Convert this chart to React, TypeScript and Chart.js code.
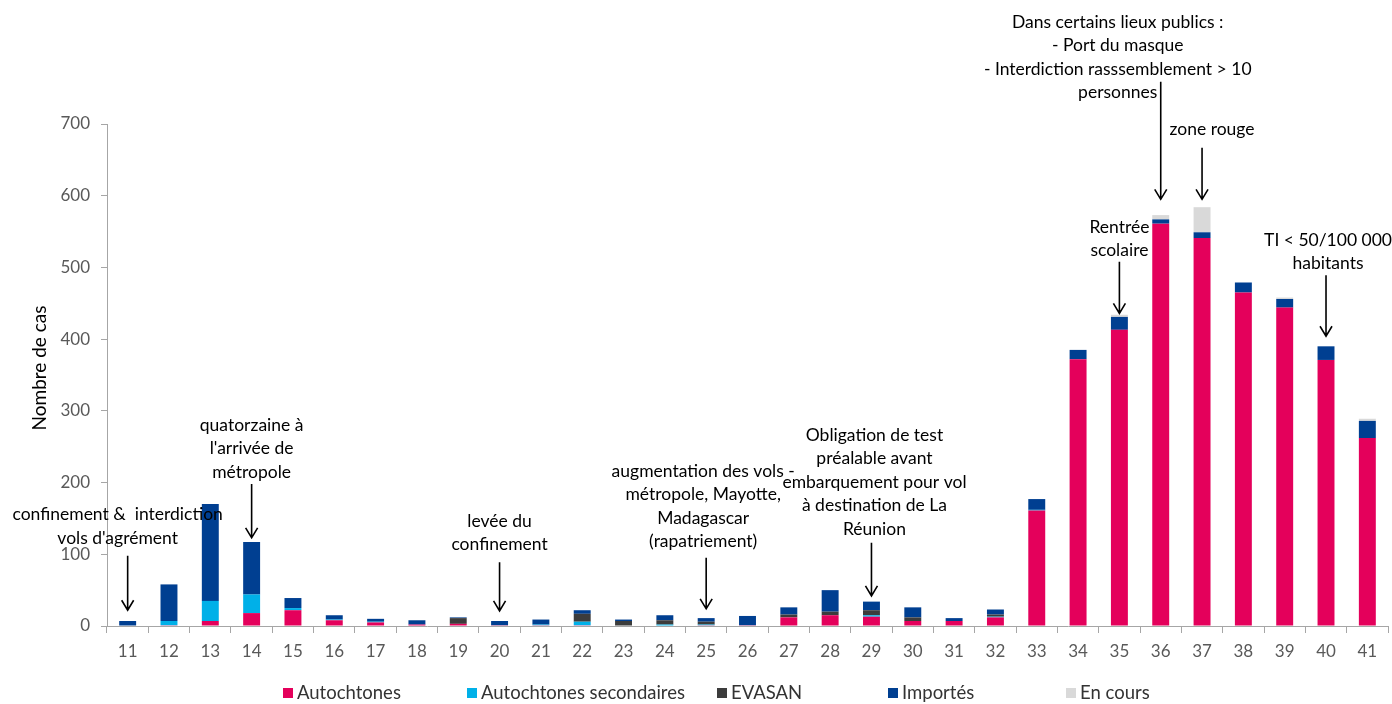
import { useEffect, useRef } from 'react';
import { Chart, registerables } from 'chart.js';

Chart.register(...registerables);

// ---------- data ----------
const weeks = ['11', '12', '13', '14', '15', '16', '17', '18', '19', '20', '21', '22', '23', '24', '25', '26', '27', '28', '29', '30', '31', '32', '33', '34', '35', '36', '37', '38', '39', '40', '41'];
const autochtones = [0, 1, 7, 18, 22, 8, 5, 2, 3, 1, 1, 1, 0, 0, 1, 1, 12, 15, 13, 7, 7, 12, 161, 372, 413, 561, 541, 465, 444, 371, 262];
const autochtonesSecondaires = [0, 6, 28, 26, 3, 1, 1, 0, 0, 0, 1, 5, 0, 2, 1, 0, 0, 0, 2, 0, 0, 1, 1, 0, 0, 0, 0, 0, 0, 0, 0];
const evasan = [0, 0, 0, 0, 0, 0, 0, 0, 8, 0, 0, 11, 7, 6, 4, 0, 4, 5, 7, 5, 0, 3, 0, 0, 0, 0, 0, 0, 0, 0, 0];
const importes = [7, 51, 135, 73, 14, 6, 4, 6, 1, 6, 7, 5, 2, 7, 5, 13, 10, 30, 12, 14, 4, 7, 15, 13, 18, 6, 8, 14, 12, 19, 24];
const enCours = [0, 0, 0, 0, 0, 0, 0, 0, 0, 0, 0, 0, 0, 0, 0, 0, 0, 0, 0, 0, 0, 0, 0, 0, 3, 6, 35, 0, 2, 0, 3];
const seriesNames = ['Autochtones', 'Autochtones secondaires', 'EVASAN', 'Importés', 'En cours'];
const yTitle = 'Nombre de cas';

// annotation texts: week, lines, text first-line value, arrow from/to values
const annotations = [
  { week: '11', lines: ["confinement &  interdiction", "vols d'agrément"], textAt: 155, from: 98, to: 22, dx: -10 },
  { week: '14', lines: ['quatorzaine à', "l'arrivée de", 'métropole'], textAt: 280, from: 198, to: 123, dx: 0 },
  { week: '20', lines: ['levée du', 'confinement'], textAt: 146, from: 89, to: 21, dx: 0 },
  { week: '25', lines: ['augmentation des vols -', 'métropole, Mayotte,', 'Madagascar', '(rapatriement)'], textAt: 216, from: 95, to: 24, dx: -3 },
  { week: '29', lines: ['Obligation de test', 'préalable avant', 'embarquement pour vol', 'à destination de La', 'Réunion'], textAt: 266, from: 116, to: 42, dx: 3 },
  { week: '35', lines: ['Rentrée', 'scolaire'], textAt: 556, from: 508, to: 436, dx: 0 },
  { week: '36', lines: ['Dans certains lieux publics :', '- Port du masque', '- Interdiction rasssemblement > 10', 'personnes'], textAt: 842, from: 759, to: 595, dx: -43 },
  { week: '37', lines: ['zone rouge'], textAt: 693, from: 667, to: 595, dx: 10 },
  { week: '40', lines: ['TI < 50/100 000', 'habitants'], textAt: 538, from: 489, to: 404, dx: 2 },
];

// ---------- styles ----------
const FONT = 'Lato, "Open Sans", sans-serif';
const COLORS = ['#E4005B', '#00B0E8', '#3C3C3C', '#003F91', '#D9D9D9'];
const AXIS_COLOR = '#A6A6A6';
const TICK_COLOR = '#595959';
const LEGEND_X = [283, 467, 717, 888, 1066];
const LEGEND_Y = 693;

const annotationPlugin = {
  id: 'annots',
  afterDatasetsDraw(chart: any) {
    const { ctx } = chart;
    const xs = chart.scales.x;
    const ys = chart.scales.y;
    ctx.save();
    ctx.font = `17.5px ${FONT}`;
    ctx.fillStyle = '#000';
    ctx.textAlign = 'center';
    ctx.textBaseline = 'middle';
    ctx.strokeStyle = '#000';
    ctx.lineWidth = 1.6;
    for (const a of annotations) {
      const cx = xs.getPixelForValue(weeks.indexOf(a.week));
      const ty = ys.getPixelForValue(a.textAt);
      a.lines.forEach((l, i) => ctx.fillText(l, cx + a.dx, ty + i * 23.5));
      const y1 = ys.getPixelForValue(a.from);
      const y2 = ys.getPixelForValue(a.to);
      ctx.beginPath();
      ctx.moveTo(cx, y1);
      ctx.lineTo(cx, y2);
      ctx.moveTo(cx - 6, y2 - 10);
      ctx.lineTo(cx, y2);
      ctx.lineTo(cx + 6, y2 - 10);
      ctx.stroke();
    }
    ctx.restore();
  },
};

const extrasPlugin = {
  id: 'extras',
  afterDraw(chart: any) {
    const { ctx } = chart;
    ctx.save();
    // y title
    ctx.font = `19px ${FONT}`;
    ctx.fillStyle = '#000';
    ctx.textAlign = 'center';
    ctx.textBaseline = 'middle';
    ctx.translate(40, 368);
    ctx.rotate(-Math.PI / 2);
    ctx.fillText(yTitle, 0, 0);
    ctx.restore();
    // legend
    ctx.save();
    ctx.font = `18.5px ${FONT}`;
    ctx.textAlign = 'left';
    ctx.textBaseline = 'middle';
    seriesNames.forEach((n, i) => {
      ctx.fillStyle = COLORS[i];
      ctx.fillRect(LEGEND_X[i], LEGEND_Y - 5, 10, 10);
      ctx.fillStyle = '#333';
      ctx.fillText(n, LEGEND_X[i] + 14, LEGEND_Y);
    });
    ctx.restore();
  },
};

export default function App() {
  const ref = useRef<HTMLCanvasElement>(null);
  useEffect(() => {
    const values = [autochtones, autochtonesSecondaires, evasan, importes, enCours];
    const chart = new Chart(ref.current!, {
      type: 'bar',
      data: {
        labels: weeks,
        datasets: values.map((v, i) => ({
          label: seriesNames[i],
          data: v,
          backgroundColor: COLORS[i],
          borderWidth: 0,
          categoryPercentage: 1,
          barPercentage: 0.41,
        })),
      },
      options: {
        responsive: false,
        animation: false,
        devicePixelRatio: 1,
        layout: { padding: { top: 124, right: 4, left: 0, bottom: 0 } },
        plugins: { legend: { display: false }, tooltip: { enabled: false } },
        scales: {
          x: {
            stacked: true,
            afterFit(s: any) { s.height = 78; },
            grid: { drawOnChartArea: false, drawTicks: true, tickLength: 7, color: AXIS_COLOR, offset: true },
            border: { color: AXIS_COLOR, width: 1 },
            ticks: { color: TICK_COLOR, font: { family: FONT, size: 17 }, padding: 8, maxRotation: 0, autoSkip: false },
          },
          y: {
            stacked: true,
            min: 0,
            max: 700,
            afterFit(s: any) { s.width = 107; },
            grid: { drawOnChartArea: false, drawTicks: true, tickLength: 6, color: AXIS_COLOR },
            border: { color: AXIS_COLOR, width: 1 },
            ticks: { stepSize: 100, color: TICK_COLOR, font: { family: FONT, size: 17 }, padding: 11 },
          },
        },
      },
      plugins: [annotationPlugin, extrasPlugin],
    });
    return () => chart.destroy();
  }, []);
  return (
    <div style={{ position: 'fixed', left: 0, top: 0, width: 1392, height: 704, background: '#fff' }}>
      <canvas ref={ref} width={1392} height={704} />
    </div>
  );
}
